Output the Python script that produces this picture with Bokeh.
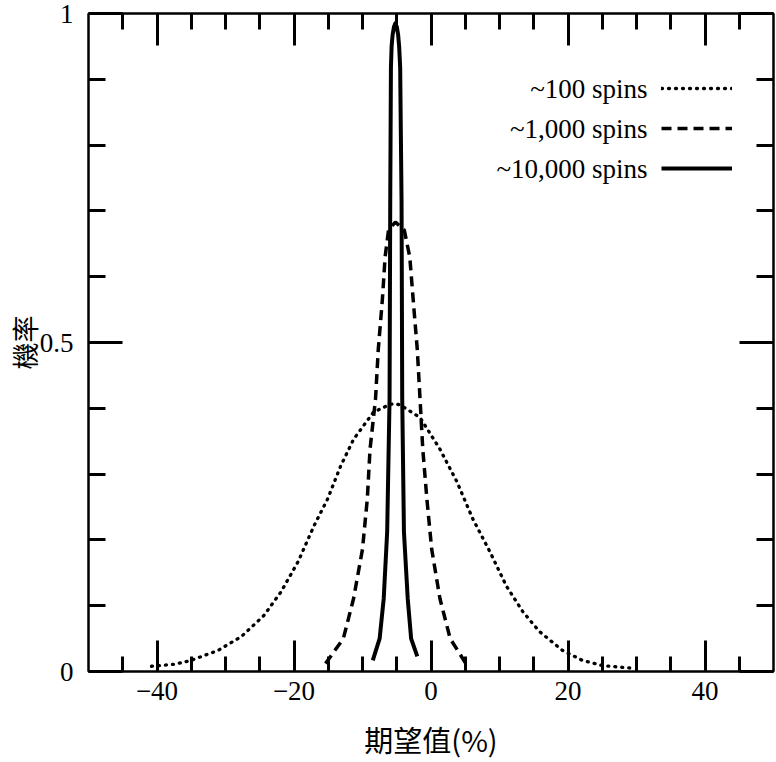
from bokeh.plotting import figure
from bokeh.models import Range1d, LinearAxis, FixedTicker, Label, Legend, LegendItem
from bokeh.embed import file_html
from bokeh.resources import INLINE

# ~100 spins (dotted)
x_100 = [-40.8, -37.4, -35.0, -31.1, -27.7, -24.4, -21.9, -19.4, -17.1, -15.1, -13.2,
         -11.3, -8.4, -6.0, -5.2, -4.5, -1.6, 1.3, 3.8, 6.1, 8.6, 11.0, 13.4, 15.8,
         19.2, 22.1, 25.0, 29.4]
y_100 = [0.008, 0.011, 0.017, 0.032, 0.053, 0.085, 0.121, 0.167, 0.221, 0.262, 0.312,
         0.353, 0.394, 0.406, 0.407, 0.405, 0.386, 0.338, 0.288, 0.232, 0.182, 0.130,
         0.091, 0.061, 0.032, 0.017, 0.009, 0.005]

# ~1,000 spins (dashed)
x_1k = [-15.4, -12.8, -11.3, -10.0, -9.3, -8.9, -8.1, -7.7, -7.1, -6.7, -6.2, -5.2,
        -3.9, -3.1, -2.6, -2.0, -1.6, -1.2, -0.6, 0.1, 1.3, 2.8, 5.1]
y_1k = [0.012, 0.05, 0.111, 0.186, 0.262, 0.338, 0.414, 0.489, 0.565, 0.630, 0.671,
        0.683, 0.671, 0.630, 0.565, 0.489, 0.414, 0.338, 0.262, 0.186, 0.111, 0.05, 0.012]

# ~10,000 spins (solid)
x_10k = [-8.5, -7.5, -6.9, -6.4, -6.05, -5.95, -5.85, -5.75, -5.6, -5.4, -5.2,
         -5.0, -4.8, -4.65, -4.5, -4.3, -4.2, -3.95, -3.4, -2.9, -2.0]
y_10k = [0.017, 0.05, 0.111, 0.212, 0.414, 0.717, 0.918, 0.950, 0.968, 0.980, 0.985,
         0.980, 0.968, 0.950, 0.918, 0.717, 0.414, 0.212, 0.111, 0.05, 0.023]

series_labels = ["~100 spins", "~1,000 spins", "~10,000 spins"]

x_major = [-40, -20, 0, 20, 40]
x_minor = [-45, -35, -30, -25, -15, -10, -5, 5, 10, 15, 25, 30, 35, 45]
x_labels = ["\u221240", "\u221220", "0", "20", "40"]
y_major = [0, 0.5, 1]
y_minor = [0.1, 0.2, 0.3, 0.4, 0.6, 0.7, 0.8, 0.9]
y_labels = ["0", "0.5", "1"]

x_title = "期望值(%)"
y_title = "機率"

SERIF = "Liberation Serif"
CJK = "Noto Sans CJK TC"

p = figure(width=776, height=762, x_range=Range1d(-50, 50), y_range=Range1d(0, 1),
           output_backend="svg", toolbar_location=None,
           x_axis_location=None, y_axis_location=None,
           min_border_left=88, min_border_right=3, min_border_top=13, min_border_bottom=89)
p.grid.visible = False
p.outline_line_color = "black"
p.outline_line_width = 2
p.background_fill_color = "white"
p.border_fill_color = "white"


def style_axis(ax, major, minor, major_len, minor_len, labels=None):
    ax.ticker = FixedTicker(ticks=major, minor_ticks=minor)
    ax.major_tick_in = major_len
    ax.major_tick_out = 0
    ax.minor_tick_in = minor_len
    ax.minor_tick_out = 0
    ax.major_tick_line_width = 3
    ax.minor_tick_line_width = 3
    ax.major_tick_line_color = "black"
    ax.minor_tick_line_color = "black"
    ax.axis_line_width = 2
    ax.axis_line_color = "black"
    if labels is None:
        ax.major_label_text_font_size = "0px"
        ax.major_label_standoff = 0
        ax.major_label_overrides = {t: "" for t in major}
    else:
        ax.major_label_overrides = {t: s for t, s in zip(major, labels)}
        ax.major_label_text_font = SERIF
        ax.major_label_text_font_size = "27px"
        ax.major_label_text_color = "black"


xb = LinearAxis()
style_axis(xb, x_major, x_minor, 31, 15, x_labels)
xb.major_label_standoff = 10
xb.axis_label = x_title
xb.axis_label_text_font = CJK
xb.axis_label_text_font_size = "29px"
xb.axis_label_text_font_style = "normal"
xb.axis_label_text_color = "black"
xb.axis_label_standoff = 15
p.add_layout(xb, "below")

xt = LinearAxis()
style_axis(xt, x_major, x_minor, 32, 16)
p.add_layout(xt, "above")

yl = LinearAxis()
style_axis(yl, y_major, y_minor, 34, 17, y_labels)
yl.major_label_standoff = 15
yl.axis_label = y_title
yl.axis_label_text_font = CJK
yl.axis_label_text_font_size = "27px"
yl.axis_label_text_font_style = "normal"
yl.axis_label_text_color = "black"
yl.axis_label_text_line_height = 1.0
yl.axis_label_standoff = -7
p.add_layout(yl, "left")

yr = LinearAxis()
style_axis(yr, y_major, y_minor, 34, 17)
p.add_layout(yr, "right")

r100 = p.line(x_100, y_100, line_color="black", line_width=3.3, line_dash="1 6", line_cap="round")
r1k = p.line(x_1k, y_1k, line_color="black", line_width=3.5, line_dash="10 6")
r10k = p.line(x_10k, y_10k, line_color="black", line_width=4, line_join="round")

legend = Legend(items=[LegendItem(label=" ", renderers=[r]) for r in (r100, r1k, r10k)],
                location=(573, 493), glyph_width=71, glyph_height=20,
                label_width=0, label_height=20, spacing=20, padding=0, margin=0,
                label_standoff=0, border_line_alpha=0, background_fill_alpha=0,
                label_text_font_size="1px")
p.add_layout(legend)

for i, txt in enumerate(series_labels):
    p.add_layout(Label(x=559, y=583 - 40 * i, x_units="screen", y_units="screen",
                       text=txt, text_align="right", text_baseline="middle",
                       text_font=SERIF, text_font_size="27px", text_color="black"))

open("out.html", "w").write(file_html(p, INLINE))
